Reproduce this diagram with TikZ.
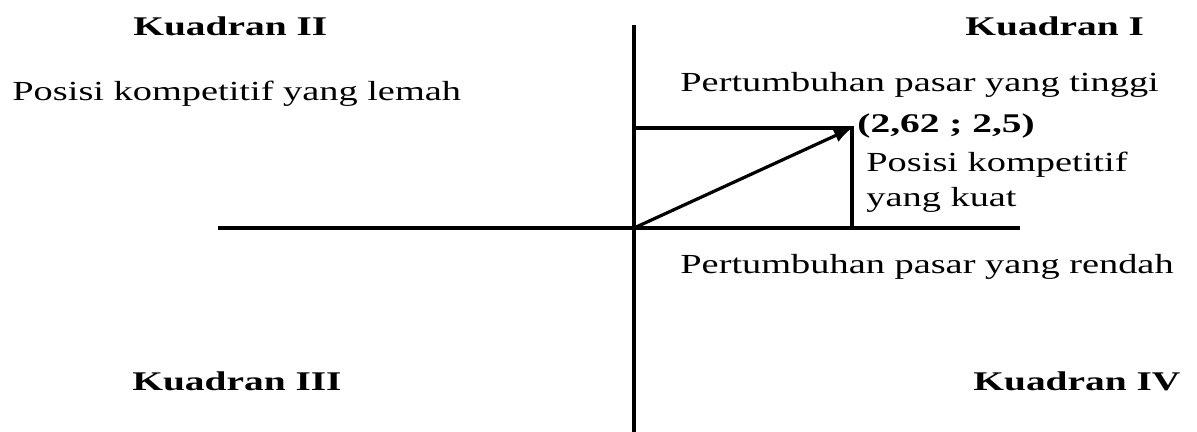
\documentclass[tikz,border=0pt]{standalone}
\usepackage{fontspec}
\setmainfont{Liberation Serif}[FakeStretch=1.39,BoldFeatures={FakeStretch=1.46}]
\usetikzlibrary{arrows.meta}
\tikzset{
	lbl/.style={anchor=base west, inner sep=0pt, font=\fontsize{13.8}{16}\selectfont},
	kuad/.style={anchor=base west, inner sep=0pt, font=\fontsize{13.5}{16}\selectfont\bfseries},
	axisline/.style={line width=1.9pt},
}
\begin{document}
\begin{tikzpicture}[x=0.5pt,y=-0.5pt]
		\useasboundingbox (0,0) rectangle (1197,432);
		
		% axes
		\coordinate (ytop) at (634,25);
		\coordinate (ybot) at (634,436);
		\coordinate (xleft) at (218,228);
		\coordinate (xright) at (1020,228);
		\coordinate (O) at (634,228);
		\draw[axisline] (ytop) -- (ybot);
		\draw[axisline] (xleft) -- (xright);
		
		% position point and its projections
		\coordinate (P) at (852,128);
		\coordinate (Py) at (634,128);
		\coordinate (Px) at (852,228);
		\draw[axisline] (Py) -- (P) -- (Px);
		\draw[line width=1.6pt,-{Latex[length=9pt,width=7pt]}] (O) -- (P);
		
		% quadrant labels
		\node[kuad] (k2) at (133,36) {Kuadran II};
		\node[kuad] (k1) at (965,36) {Kuadran I};
		\node[kuad] (k3) at (132,390) {Kuadran III};
		\node[kuad] (k4) at (973,390) {Kuadran IV};
		
		% descriptions
		\node[lbl] (lemah) at (12,101) {Posisi kompetitif yang lemah};
		\node[lbl] (tinggi) at (680,92) {Pertumbuhan pasar yang tinggi};
		\node[kuad] (titik) at (857,133) {(2,62 ; 2,5)};
		\node[lbl] (kuat1) at (866,172) {Posisi kompetitif};
		\node[lbl] (kuat2) at (866,207) {yang kuat};
		\node[lbl] (rendah) at (680,274) {Pertumbuhan pasar yang rendah};
	\end{tikzpicture}
\end{document}
